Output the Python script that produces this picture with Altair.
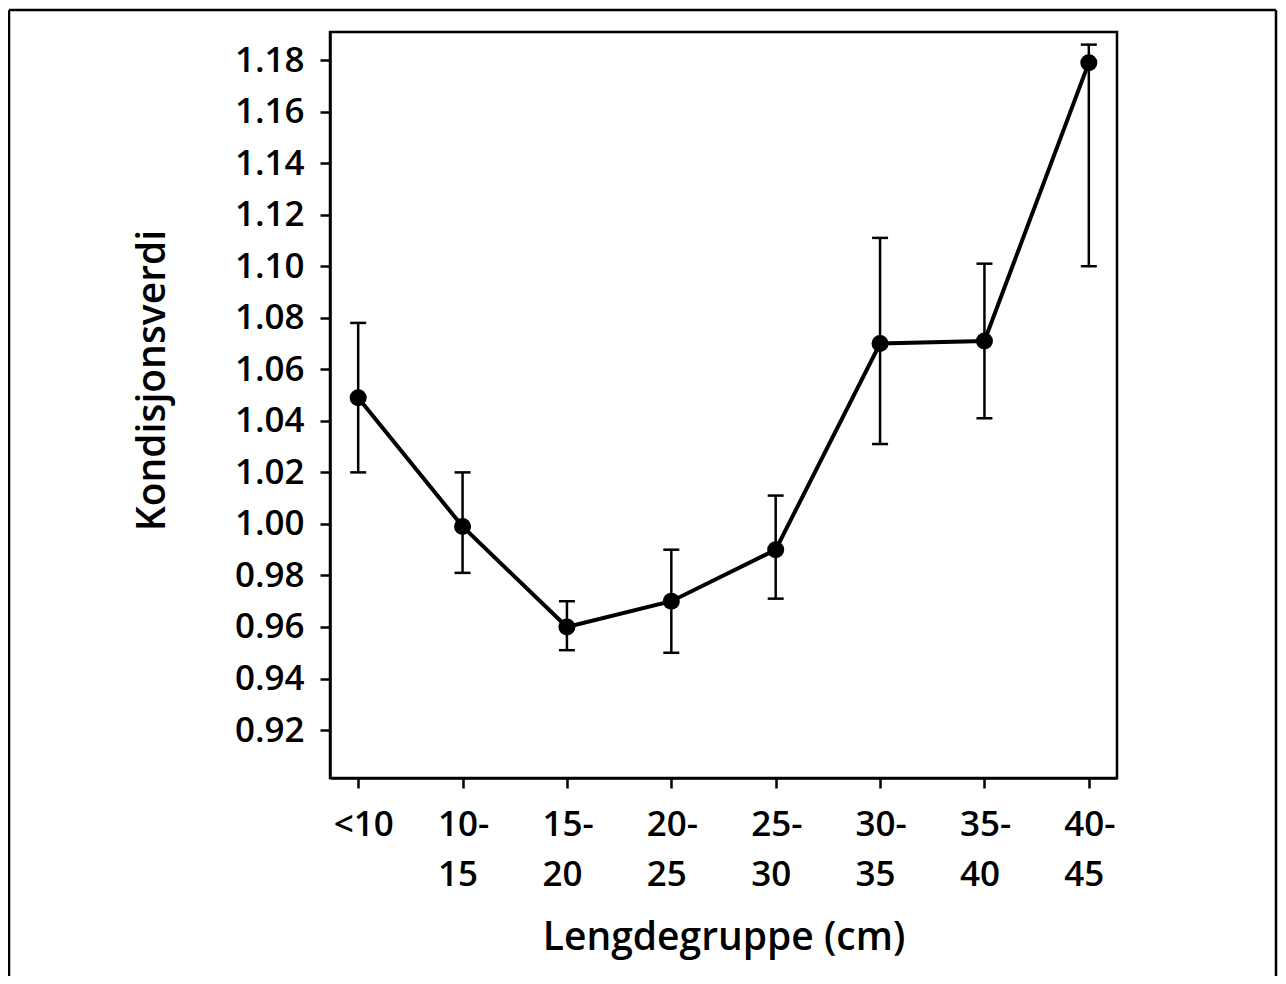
import altair as alt
import pandas as pd

groups = ["<10", "10-15", "15-20", "20-25", "25-30", "30-35", "35-40", "40-45"]
mean = [1.049, 0.999, 0.960, 0.970, 0.990, 1.070, 1.071, 1.179]
upper = [1.078, 1.020, 0.970, 0.990, 1.011, 1.111, 1.101, 1.186]
lower = [1.020, 0.981, 0.951, 0.950, 0.971, 1.031, 1.041, 1.100]
yticks = [0.92, 0.94, 0.96, 0.98, 1.00, 1.02, 1.04, 1.06, 1.08, 1.10, 1.12, 1.14, 1.16, 1.18]

df = pd.DataFrame({"g": groups, "m": mean, "hi": upper, "lo": lower})

FONT = "Open Sans"

xenc = alt.X("g:N", sort=groups,
             scale=alt.Scale(type="point", padding=0.27),
             axis=alt.Axis(title="Lengdegruppe (cm)",
                           labelExpr="datum.value == '<10' ? '<10' : [split(datum.value, '-')[0] + '-', split(datum.value, '-')[1]]",
                           labelAngle=0, labelAlign="left", labelOffset=-25,
                           labelLineHeight=50, labelPadding=19,
                           tickSize=10, tickWidth=2.5, titlePadding=26))
yscale = alt.Scale(domain=[0.9014, 1.1909], nice=False, zero=False)
yenc = alt.Y("m:Q", scale=yscale,
             axis=alt.Axis(title="Kondisjonsverdi", values=yticks, format=".2f",
                           tickSize=10, tickWidth=2.5, labelPadding=16,
                           titlePadding=62, titleY=348))

base = alt.Chart(df)

rules = base.mark_rule(color="black", strokeWidth=2.5).encode(
    x=alt.X("g:N", sort=groups), y=alt.Y("lo:Q", scale=yscale), y2="hi:Q")
caps_hi = base.mark_tick(color="black", size=16, thickness=2.5, opacity=1).encode(
    x=alt.X("g:N", sort=groups), y=alt.Y("hi:Q", scale=yscale))
caps_lo = base.mark_tick(color="black", size=16, thickness=2.5, opacity=1).encode(
    x=alt.X("g:N", sort=groups), y=alt.Y("lo:Q", scale=yscale))
line = base.mark_line(color="black", strokeWidth=4).encode(x=xenc, y=yenc)
pts = base.mark_point(filled=True, color="black", size=290, opacity=1).encode(
    x=alt.X("g:N", sort=groups), y=alt.Y("m:Q", scale=yscale))

one = pd.DataFrame({"a": [0]})
frame_left = alt.Chart(one).mark_rule(color="black", strokeWidth=2.5, clip=False).encode(
    x=alt.value(-321), y=alt.value(-22), y2=alt.value(944))
frame_top = alt.Chart(one).mark_rule(color="black", strokeWidth=2.5, clip=False).encode(
    x=alt.value(-321), x2=alt.value(946), y=alt.value(-22))
frame_right = alt.Chart(one).mark_rule(color="black", strokeWidth=2.5, clip=False).encode(
    x=alt.value(946), y=alt.value(-22), y2=alt.value(944))

chart = alt.layer(line, rules, caps_hi, caps_lo, pts,
                  frame_left, frame_top, frame_right).properties(
    width=787, height=746,
    autosize=alt.AutoSizeParams(type="none"),
    padding={"left": 322, "top": 24, "right": 161, "bottom": 198},
).configure_view(stroke="black", strokeWidth=2.5).configure_axis(
    labelFont=FONT, titleFont=FONT, labelFontSize=35, titleFontSize=39,
    labelFontWeight=600, titleFontWeight=600,
    labelColor="black", titleColor="black",
    domainColor="black", domainWidth=2.5, tickColor="black", grid=False,
)

chart.save("out.html", embed_options={"renderer": "svg", "actions": False})
